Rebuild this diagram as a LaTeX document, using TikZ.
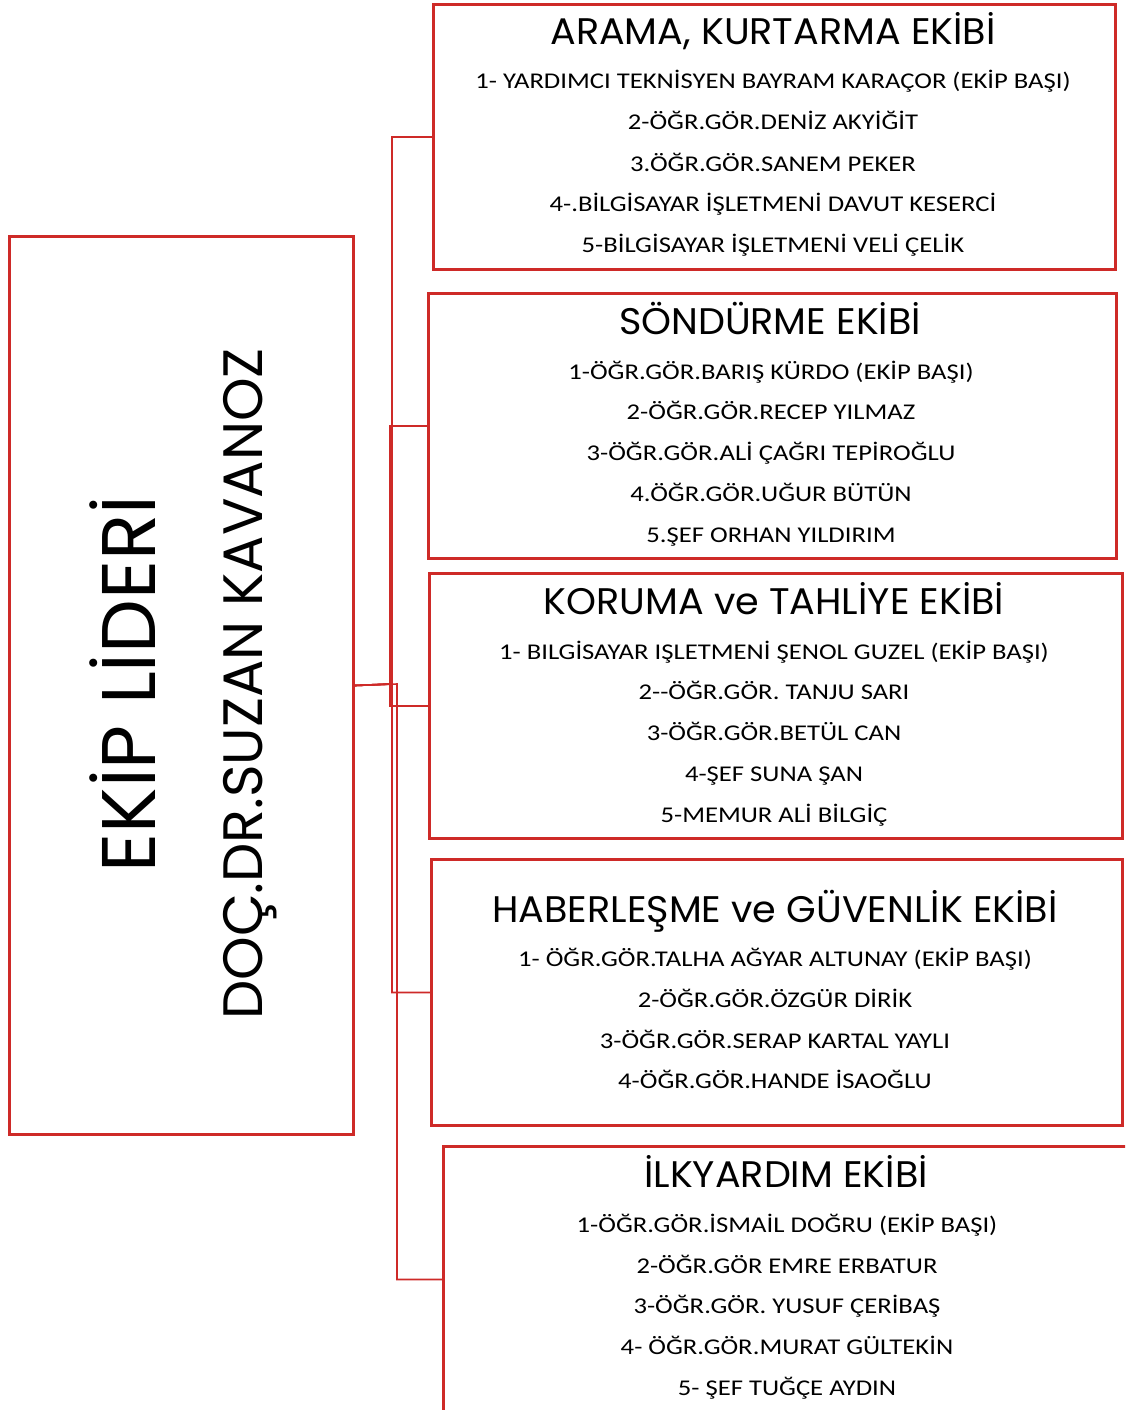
\documentclass[tikz,border=0pt]{standalone}
\usepackage{fontspec}
\setmainfont{Carlito}
\newfontfamily\gothic{Poppins}
\definecolor{rd}{RGB}{206,42,40}
\newcommand\itx[1]{\scalebox{1.185}[1]{#1}}
\newcommand\ttx[1]{\scalebox{1.03}[1]{#1}}
\begin{document}
\begin{tikzpicture}[x=1pt,y=-1pt,
 box/.style={draw=rd, line width=3pt, inner sep=0pt, anchor=north west},
 conn/.style={draw=rd, line width=1.6pt},
 ttl/.style={anchor=base, font=\gothic\fontsize{37}{37}\selectfont, inner sep=0pt},
 itm/.style={anchor=base, font=\fontsize{22.5}{22.5}\selectfont, inner sep=0pt},
 big/.style={anchor=base, rotate=90, inner sep=0pt}]
\useasboundingbox (0,0) rectangle (1125,1410);
\clip (0,0) rectangle (1125,1410);
\fill[white] (0,0) rectangle (1125,1410);

% leader
\node[box, minimum width=344pt, minimum height=898pt] (lead) at (8,235) {};
\node[big, font=\gothic\fontsize{76}{76}\selectfont] (l1) at (155,684) {EKİP LİDERİ};
\node[big, font=\gothic\fontsize{55.5}{55.5}\selectfont] (l2) at (262,684) {DOÇ.DR.SUZAN KAVANOZ};

% boxes
\node[box, minimum width=682pt, minimum height=265pt] (b1) at (432,3) {};
\node[box, minimum width=688pt, minimum height=265pt] (b2) at (427,292) {};
\node[box, minimum width=693pt, minimum height=265pt] (b3) at (428,572) {};
\node[box, minimum width=691pt, minimum height=266pt] (b4) at (430,858) {};
\node[box, minimum width=700pt, minimum height=266pt] (b5) at (442,1145) {};

% connectors
\coordinate (j1) at (392,684);
\coordinate (j2) at (390,684);
\coordinate (j3) at (390,684);
\coordinate (j4) at (392,684);
\coordinate (j5) at (397,684);
\draw[conn] (lead.east) -- (j1) |- (b1.west);
\draw[conn] (lead.east) -- (j2) |- (b2.west);
\draw[conn] (lead.east) -- (j3) |- (b3.west);
\draw[conn] (lead.east) -- (j4) |- (b4.west);
\draw[conn] (lead.east) -- (j5) |- (b5.west);

% box 1
\node[ttl] (t1) at (773,45) {\ttx{ARAMA, KURTARMA EKİBİ}};
\node[itm] (t1a) at (773,89) {\itx{1- YARDIMCI TEKNİSYEN BAYRAM KARAÇOR (EKİP BAŞI)}};
\node[itm] (t1b) at (773,130) {\itx{2-ÖĞR.GÖR.DENİZ AKYİĞİT}};
\node[itm] (t1c) at (773,171) {\itx{3.ÖĞR.GÖR.SANEM PEKER}};
\node[itm] (t1d) at (773,211) {\itx{4-.BİLGİSAYAR İŞLETMENİ DAVUT KESERCİ}};
\node[itm] (t1e) at (773,252) {\itx{5-BİLGİSAYAR İŞLETMENİ VELİ ÇELİK}};

% box 2
\node[ttl] (t2) at (770,334) {\ttx{SÖNDÜRME EKİBİ}};
\node[itm] (t2a) at (771,379) {\itx{1-ÖĞR.GÖR.BARIŞ KÜRDO (EKİP BAŞI)}};
\node[itm] (t2b) at (771,419) {\itx{2-ÖĞR.GÖR.RECEP YILMAZ}};
\node[itm] (t2c) at (771,460) {\itx{3-ÖĞR.GÖR.ALİ ÇAĞRI TEPİROĞLU}};
\node[itm] (t2d) at (771,501) {\itx{4.ÖĞR.GÖR.UĞUR BÜTÜN}};
\node[itm] (t2e) at (771,542) {\itx{5.ŞEF ORHAN YILDIRIM}};

% box 3
\node[ttl] (t3) at (774,614) {\ttx{KORUMA ve TAHLİYE EKİBİ}};
\node[itm] (t3a) at (774,659) {\itx{1- BILGİSAYAR IŞLETMENİ ŞENOL GUZEL (EKİP BAŞI)}};
\node[itm] (t3b) at (774,699) {\itx{2-{}-ÖĞR.GÖR. TANJU SARI}};
\node[itm] (t3c) at (774,740) {\itx{3-ÖĞR.GÖR.BETÜL CAN}};
\node[itm] (t3d) at (774,781) {\itx{4-ŞEF SUNA ŞAN}};
\node[itm] (t3e) at (774,822) {\itx{5-MEMUR ALİ BİLGİÇ}};

% box 4
\node[ttl] (t4) at (775,922) {\ttx{HABERLEŞME ve GÜVENLİK EKİBİ}};
\node[itm] (t4a) at (775,966) {\itx{1- ÖĞR.GÖR.TALHA AĞYAR ALTUNAY (EKİP BAŞI)}};
\node[itm] (t4b) at (775,1007) {\itx{2-ÖĞR.GÖR.ÖZGÜR DİRİK}};
\node[itm] (t4c) at (775,1048) {\itx{3-ÖĞR.GÖR.SERAP KARTAL YAYLI}};
\node[itm] (t4d) at (775,1088) {\itx{4-ÖĞR.GÖR.HANDE İSAOĞLU}};

% box 5
\node[ttl] (t5) at (786,1187) {\ttx{İLKYARDIM EKİBİ}};
\node[itm] (t5a) at (787,1232) {\itx{1-ÖĞR.GÖR.İSMAİL DOĞRU (EKİP BAŞI)}};
\node[itm] (t5b) at (787,1273) {\itx{2-ÖĞR.GÖR EMRE ERBATUR}};
\node[itm] (t5c) at (787,1313) {\itx{3-ÖĞR.GÖR. YUSUF ÇERİBAŞ}};
\node[itm] (t5d) at (787,1354) {\itx{4- ÖĞR.GÖR.MURAT GÜLTEKİN}};
\node[itm] (t5e) at (787,1395) {\itx{5- ŞEF TUĞÇE AYDIN}};
\end{tikzpicture}
\end{document}
